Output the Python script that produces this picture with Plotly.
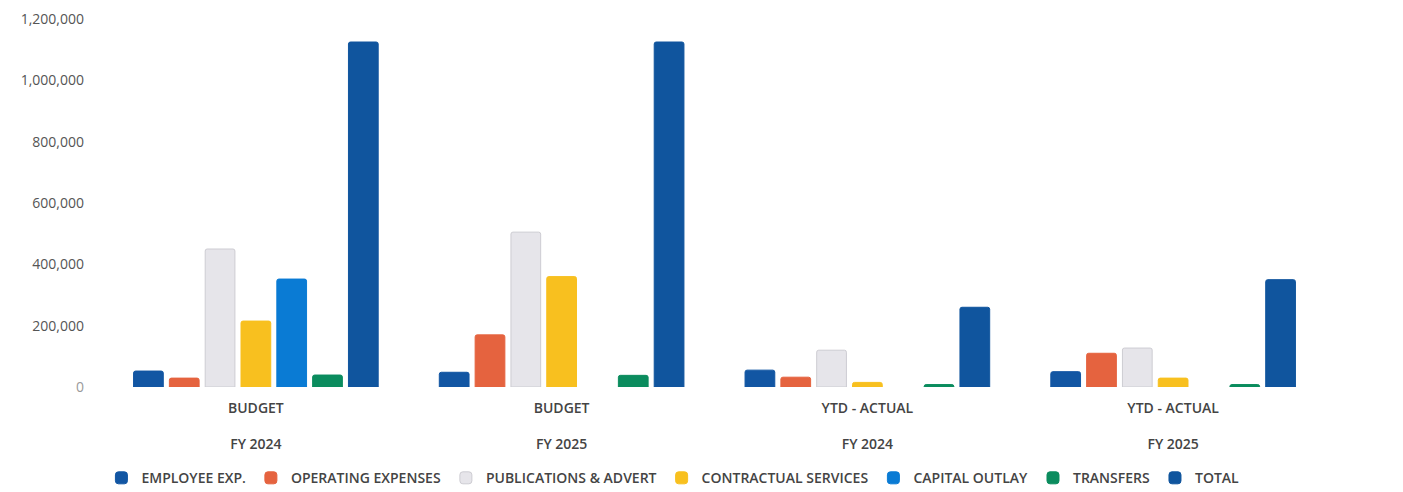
import plotly.graph_objects as go

# Column groups: budget type and fiscal year
group_types = ["BUDGET", "BUDGET", "YTD - ACTUAL", "YTD - ACTUAL"]
fiscal_years = ["FY 2024", "FY 2025", "FY 2024", "FY 2025"]

# Expense categories (one bar series each)
series_names = [
    "EMPLOYEE EXP.",
    "OPERATING EXPENSES",
    "PUBLICATIONS & ADVERT",
    "CONTRACTUAL SERVICES",
    "CAPITAL OUTLAY",
    "TRANSFERS",
    "TOTAL",
]

employee_exp = [52000, 48000, 55000, 50000]
operating_expenses = [29000, 170000, 32000, 110000]
publications_advert = [450000, 505000, 120000, 127000]
contractual_services = [215000, 360000, 15000, 29000]
capital_outlay = [352000, None, None, None]
transfers = [39000, 38000, 8000, 8000]
total = [1125000, 1125000, 260000, 350000]

y_ticks = [0, 200000, 400000, 600000, 800000, 1000000, 1200000]
y_tick_labels = [
    "<span style='color:#9a9a9a'>0</span>",
    "200,000", "400,000", "600,000", "800,000", "1,000,000", "1,200,000",
]

series_values = [
    employee_exp,
    operating_expenses,
    publications_advert,
    contractual_services,
    capital_outlay,
    transfers,
    total,
]

colors = ["#1256A3", "#E5633F", "#E6E5EA", "#F8C01F", "#0A7BD4", "#0B8C5E", "#10559E"]
outlines = ["#1256A3", "#E5633F", "#CDCCD2", "#F8C01F", "#0A7BD4", "#0B8C5E", "#10559E"]

# Two-line category labels: type on top, fiscal year below
x_labels = [f"{t}<br><br>{fy}" for t, fy in zip(group_types, fiscal_years)]

fig = go.Figure()
for name, vals, col, line in zip(series_names, series_values, colors, outlines):
    fig.add_trace(
        go.Bar(
            name=name,
            x=x_labels,
            y=vals,
            marker=dict(color=col, line=dict(color=line, width=1), cornerradius=2),
        )
    )

fig.update_layout(
    width=1403,
    height=492,
    margin=dict(l=103, r=77, t=19, b=105, autoexpand=False),
    paper_bgcolor="white",
    plot_bgcolor="white",
    barmode="group",
    bargap=0.18,
    bargroupgap=0.17,
    font=dict(family="Open Sans", size=14, color="#444444"),
    showlegend=True,
    legend=dict(
        orientation="h",
        x=0.466,
        xanchor="center",
        yref="container",
        y=0.028,
        yanchor="middle",
        font=dict(size=14, color="#444444", weight=600),
        traceorder="normal",
        itemwidth=30,
    ),
    yaxis=dict(
        range=[0, 1200000],
        tickvals=y_ticks,
        ticktext=y_tick_labels,
        showgrid=False,
        zeroline=False,
        showline=False,
        ticks="",
        automargin=False,
        ticklabelstandoff=18,
        tickfont=dict(size=14, color="#555555"),
    ),
    xaxis=dict(
        type="category",
        showgrid=False,
        showline=False,
        ticks="",
        automargin=False,
        ticklabelstandoff=11,
        tickfont=dict(size=14, color="#444444", weight=600),
    ),
)

fig.write_html("out.html")
